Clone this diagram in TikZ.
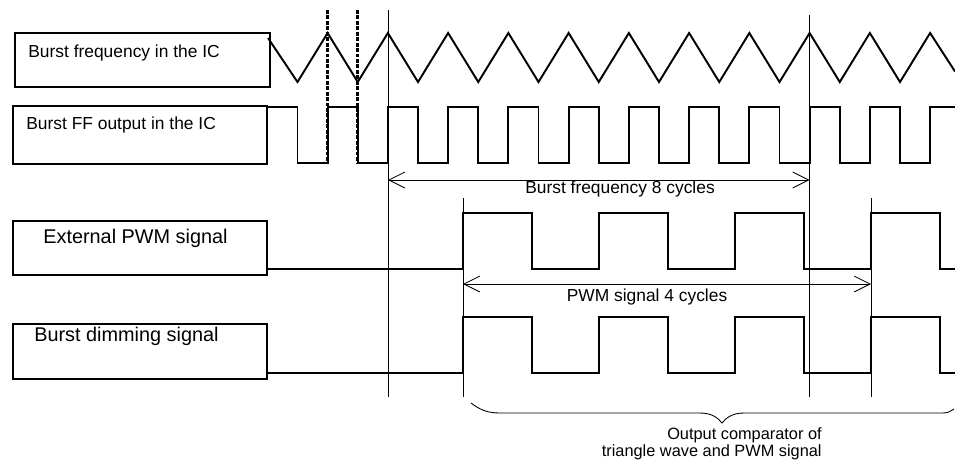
\documentclass[tikz,border=0pt]{standalone}
\usepackage{fontspec}
\setmainfont{Liberation Sans}
\usetikzlibrary{arrows.meta}
\tikzset{
  sigbox/.style={draw, line width=0.9pt, inner sep=0pt, anchor=north west},
  wave/.style={line width=1.1pt, line join=miter},
  marker/.style={line width=0.5pt},
  dimline/.style={line width=0.5pt, {Straight Barb[length=9pt,width=9pt]}-{Straight Barb[length=9pt,width=9pt]}},
  syncline/.style={line width=1.8pt, dash pattern=on 2.2pt off 0.9pt},
  smalltext/.style={inner sep=0pt, font=\fontsize{9.9}{12}\selectfont},
  bigtext/.style={inner sep=0pt, font=\fontsize{11.3}{13}\selectfont},
}
\begin{document}
\begin{tikzpicture}[x=0.02cm, y=-0.02cm]
            \useasboundingbox (0,0) rectangle (955,467);
            % label boxes
            \node[sigbox, minimum width=5.1cm, minimum height=1.08cm] (freqbox) at (14,32) {};
            \node[sigbox, minimum width=5.08cm, minimum height=1.16cm] (ffbox) at (12,105) {};
            \node[sigbox, minimum width=5.08cm, minimum height=1.08cm] (pwmbox) at (12,220) {};
            \node[sigbox, minimum width=5.08cm, minimum height=1.1cm] (dimbox) at (12,323) {};
            \node[smalltext, anchor=west] (freqlabel) at (28,53) {Burst frequency in the IC};
            \node[smalltext, anchor=west] (fflabel) at (26,125) {Burst FF output in the IC};
            \node[bigtext, anchor=west] (pwmlabel) at (43,238) {External PWM signal};
            \node[bigtext, anchor=west] (dimlabel) at (34,336) {Burst dimming signal};
            % waveforms
            \draw[wave] (268,38) \foreach \k in {0,...,10}{ -- ({297.5+60.25*\k},82) -- ({327.6+60.25*\k},33)} -- (955,71.5);
            \draw[wave] (266,107) \foreach \k in {0,...,10}{ -- ({297.5+60.25*\k},107) -- ({297.5+60.25*\k},163) -- ({327.6+60.25*\k},163) -- ({327.6+60.25*\k},107)} -- (955,107);
            \draw[wave] (266,269) \foreach \k in {0,...,3}{ -- ({463+136*\k},269) -- ({463+136*\k},213) -- ({532+136*\k},213) -- ({532+136*\k},269)} -- (955,269);
            \draw[wave] (266,373) \foreach \k in {0,...,3}{ -- ({463+136*\k},373) -- ({463+136*\k},317) -- ({532+136*\k},317) -- ({532+136*\k},373)} -- (955,373);
            % sync and marker lines
            \coordinate (s1top) at (327.6,10);
            \coordinate (s1bot) at (327.6,163);
            \coordinate (s2top) at (357.75,10);
            \coordinate (s2bot) at (357.75,163);
            \draw[syncline] (s1top) -- (s1bot);
            \draw[syncline] (s2top) -- (s2bot);
            \coordinate (m1top) at (388,10);
            \coordinate (m1bot) at (388,397);
            \coordinate (m2top) at (809.6,15);
            \coordinate (m2bot) at (809.6,397);
            \coordinate (m3top) at (463,198);
            \coordinate (m3bot) at (463,397);
            \coordinate (m4top) at (871,198);
            \coordinate (m4bot) at (871,397);
            \draw[marker] (m1top) -- (m1bot);
            \draw[marker] (m2top) -- (m2bot);
            \draw[marker] (m3top) -- (m3bot);
            \draw[marker] (m4top) -- (m4bot);
            % cycle arrows
            \coordinate (burstL) at (388,180);
            \coordinate (burstR) at (809.6,180);
            \coordinate (pwmL) at (463,284);
            \coordinate (pwmR) at (871,284);
            \draw[dimline] (burstL) -- (burstR);
            \draw[dimline] (pwmL) -- (pwmR);
            \node[smalltext] (burstcycles) at (620,189) {Burst frequency 8 cycles};
            \node[smalltext] (pwmcycles) at (647,297) {PWM signal 4 cycles};
            % brace
            \draw[marker] (471,403) .. controls (480,410) and (488,413) .. (500,413) -- (700,413) .. controls (712,413) and (718,418) .. (722,423) .. controls (726,418) and (732,413) .. (744,413) -- (943,413) .. controls (948,413) and (951,411) .. (954,409);
            \node[inner sep=0pt, align=right, anchor=east, font=\fontsize{9.3}{9.5}\selectfont] (outtext) at (822,444) {Output comparator of\\triangle wave and PWM signal};
        \end{tikzpicture}
\end{document}
